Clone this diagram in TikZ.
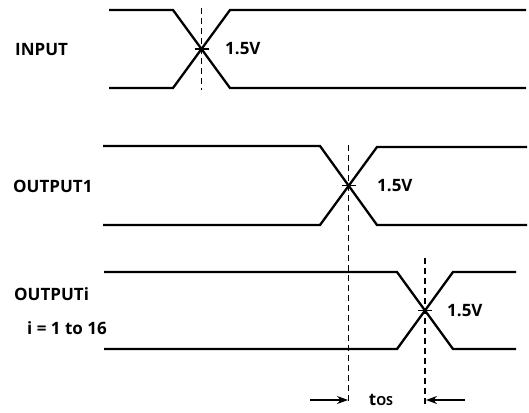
\documentclass[tikz,border=0pt]{standalone}
\usepackage{fontspec}
\setmainfont{Open Sans}
\usetikzlibrary{arrows.meta}
\begin{document}
\begin{tikzpicture}[x=1pt,y=-1pt,
  sig/.style={line width=2.3pt,line join=miter},
  guide/.style={line width=1.1pt,dash pattern=on 6pt off 4pt},
  tick/.style={line width=1.1pt},
  lbl/.style={font=\fontsize{17}{20}\selectfont\bfseries,inner sep=0pt},
  vlbl/.style={font=\fontsize{17}{20}\selectfont\bfseries,inner sep=0pt,anchor=west},
  dim/.style={line width=1.1pt,-{Stealth[length=11pt,width=8pt]}}]
\useasboundingbox (0,0) rectangle (529,412);
% INPUT
\draw[sig] (109,10) -- (173,10) -- (230,88) -- (526,88);
\draw[sig] (109,88) -- (173,88) -- (230,10) -- (526,10);
\coordinate (x1) at (201.5,49);
\draw[guide] (201.5,8) -- (201.5,90);
\draw[tick] ([xshift=-7pt]x1) -- ([xshift=7pt]x1);
\node[lbl,anchor=west] (in) at (15,49.5) {INPUT};
\node[vlbl] (v1) at (225,49) {1.5V};
% OUTPUT1
\draw[sig] (103,146) -- (320,146) -- (377,225) -- (527,225);
\draw[sig] (103,225) -- (320,225) -- (377,147) -- (527,147);
\coordinate (x2) at (348.5,185.5);
\draw[guide] (348.5,145) -- (348.5,405);
\draw[tick] ([xshift=-7pt]x2) -- ([xshift=7pt]x2);
\node[lbl,anchor=west] (o1) at (13,186) {OUTPUT1};
\node[vlbl] (v2) at (377,186) {1.5V};
% OUTPUTi
\draw[sig] (104,272) -- (397,272) -- (453,349) -- (516,349);
\draw[sig] (104,349) -- (397,349) -- (453,272) -- (516,272);
\coordinate (x3) at (425,310.5);
\draw[guide] (425,258) -- (425,405);
\draw[tick] ([xshift=-7pt]x3) -- ([xshift=7pt]x3);
\node[lbl,anchor=west] (oi) at (14,294) {OUTPUTi};
\node[lbl,anchor=west] (oi2) at (27,328) {i = 1 to 16};
\node[vlbl] (v3) at (447,311) {1.5V};
% tOS
\coordinate (a1s) at (310,400);
\coordinate (a1e) at (348,400);
\coordinate (a2s) at (465,400);
\coordinate (a2e) at (426,400);
\draw[dim] (a1s) -- (a1e);
\draw[dim] (a2s) -- (a2e);
\node[lbl] (tos) at (381,400) {t{\fontsize{12.5}{14}\selectfont OS}};
\end{tikzpicture}
\end{document}
